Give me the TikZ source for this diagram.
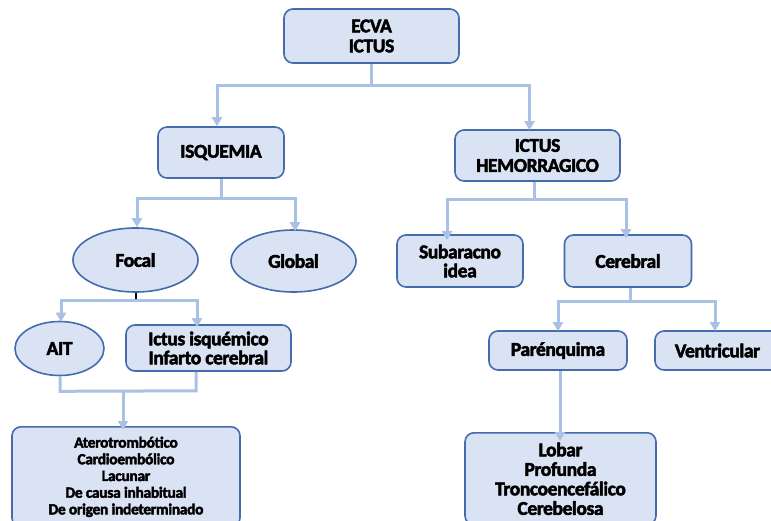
\documentclass[tikz,border=0pt]{standalone}
\usepackage{fontspec}
\setmainfont{Carlito}
\newfontfamily\heavy{Carlito}[UprightFont=*-Bold, FakeBold=2.5, LetterSpace=-2]
\usetikzlibrary{arrows.meta,shapes.geometric,calc}
\definecolor{boxfill}{RGB}{218,227,243}
\definecolor{boxline}{RGB}{68,107,172}
\definecolor{conn}{RGB}{168,193,229}
\tikzset{
  x=1pt, y=-1pt,
  base/.style={draw=boxline, fill=boxfill, line width=1.6pt, align=center, inner sep=0pt,
    font=\fontsize{19.5}{20}\heavy},
  rbox/.style={base, rectangle, rounded corners=9pt},
  ell/.style={base, ellipse},
  cline/.style={draw=conn, line width=3pt},
  carrow/.style={cline, -{Triangle[width=10pt,length=9pt]}},
  small/.style={font=\fontsize{15.5}{16.7}\heavy},
}
\begin{document}
\begin{tikzpicture}
\useasboundingbox (0,0) rectangle (771,520);
\begin{scope}
\clip (0,0) rectangle (771,520);
\node[rbox, minimum width=175pt, minimum height=54pt] (top) at (371.5,36) {ECVA\\ICTUS};
\node[rbox, minimum width=126pt, minimum height=51pt] (isq) at (221,152.5) {ISQUEMIA};
\node[rbox, minimum width=165pt, minimum height=51pt] (hem) at (537.5,155.5) {ICTUS\\HEMORRAGICO};
\node[ell, minimum width=125pt, minimum height=64pt] (focal) at (135.5,260) {Focal};
\node[ell, minimum width=125pt, minimum height=62pt] (global) at (293.5,261) {Global};
\node[rbox, minimum width=126pt, minimum height=52pt] (sub) at (460,261) {Subaracno\\[-1pt]idea};
\node[rbox, minimum width=127pt, minimum height=52pt] (cer) at (628,261) {Cerebral};
\node[ell, minimum width=89pt, minimum height=54pt] (ait) at (59.5,348.5) {AIT};
\node[rbox, minimum width=165pt, minimum height=46pt] (isqc) at (208.5,348) {Ictus isquémico\\[-1pt]Infarto cerebral};
\node[rbox, small, minimum width=228pt, minimum height=100pt, anchor=north] (bl) at (126,426)
  {\rule{0pt}{11pt}Aterotrombótico\\Cardioembólico\\Lacunar\\De causa inhabitual\\De origen indeterminado};
\node[rbox, minimum width=138pt, minimum height=39pt] (par) at (558,350.5) {Parénquima};
\node[rbox, minimum width=125pt, minimum height=39pt] (ven) at (717.5,350.5) {Ventricular};
\node[rbox, minimum width=191pt, minimum height=92pt, anchor=north] (br) at (560.5,432)
  {\rule{0pt}{4pt}Lobar\\[-0.5pt]Profunda\\[-0.5pt]Troncoencefálico\\[-0.5pt]Cerebelosa};

% top level
\coordinate (t1) at ($(top.south)+(0,22)$);
\draw[cline] (top.south) -- (t1);
\draw[carrow] (t1) -| ([xshift=-4pt]isq.north);
\draw[carrow] (t1) -| ([xshift=-8pt,yshift=-1pt]hem.north);

% isquemia
\coordinate (i1) at ($(isq.south)+(0,20)$);
\draw[cline] (isq.south) -- (i1);
\draw[carrow] (i1) -| ([xshift=1.5pt]focal.north);
\draw[carrow] (i1) -| ([xshift=1.5pt,yshift=-2pt]global.north);

% hemorragico
\coordinate (h1) at ($(hem.south)+(-3.5,18)$);
\draw[cline] ([xshift=-3.5pt]hem.south) -- (h1);
\draw[carrow] (h1) -| ([xshift=-13pt,yshift=-6pt]sub.north);
\draw[carrow] (h1) -| ([xshift=-2pt,yshift=-4pt]cer.north);

% focal
\coordinate (f1) at ($(focal.south)+(0.5,8)$);
\draw[line width=2pt, black] ([xshift=0.5pt]focal.south) -- (f1);
\draw[carrow] (f1) -| ([xshift=1.5pt,yshift=-1pt]ait.north);
\draw[carrow] (f1) -| ([xshift=-11.5pt,yshift=-3pt]isqc.north);

% ait + isqc to bottom
\coordinate (a1) at ($(ait.south)+(0.5,15)$);
\coordinate (a2) at ($(isqc.south)+(-12.5,19)$);
\draw[cline] ([xshift=0.5pt]ait.south) -- (a1) -- (a2) -- ([xshift=-12.5pt]isqc.south);
\coordinate (a3) at ($(bl.north)+(-3,-36)$);
\draw[carrow] (a3) -- ([xshift=-3pt,yshift=-4pt]bl.north);

% cerebral
\coordinate (c1) at ($(cer.south)+(2,14)$);
\draw[cline] ([xshift=2pt]cer.south) -- (c1);
\draw[carrow] (c1) -| ([yshift=-1pt]par.north);
\draw[carrow] (c1) -| ([xshift=-2.5pt,yshift=-1pt]ven.north);

% parenquima
\draw[carrow] ([xshift=2pt]par.south) -- ([xshift=-0.5pt,yshift=-9pt]br.north);
\end{scope}
\end{tikzpicture}
\end{document}
